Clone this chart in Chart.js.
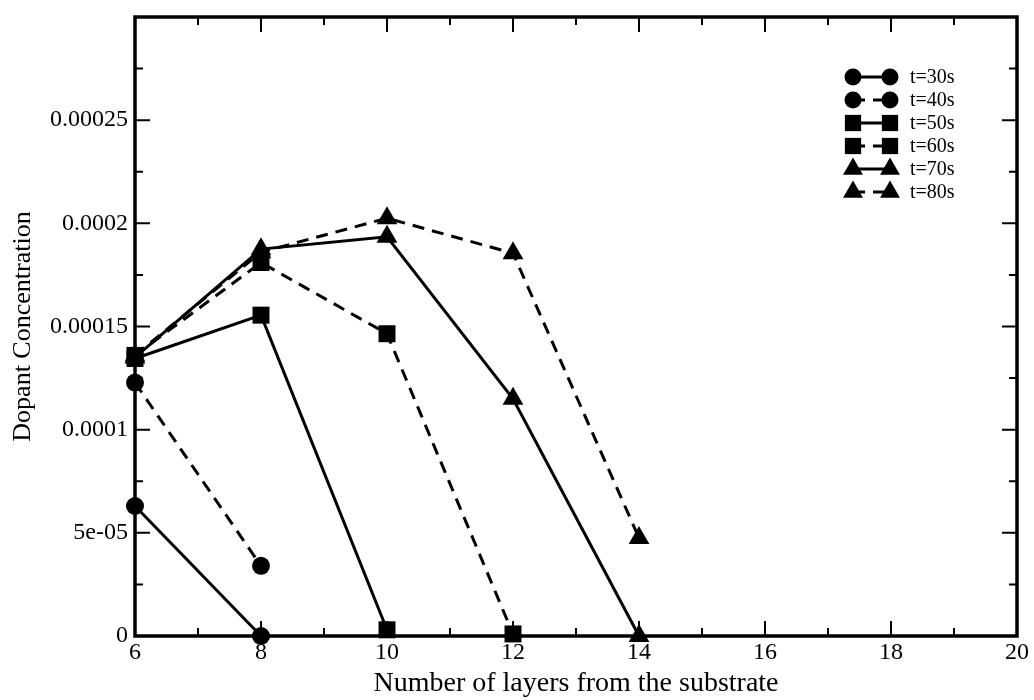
<!DOCTYPE html>
<html>
<head>
<meta charset="utf-8">
<title>Dopant Concentration vs Number of layers</title>
<script src="https://cdn.jsdelivr.net/npm/chart.js@4/dist/chart.umd.min.js"></script>
<style>
  html, body { margin: 0; padding: 0; background: #ffffff; }
  #wrap { width: 1034px; height: 700px; }
</style>
</head>
<body>
<div id="wrap"><canvas id="c" width="1034" height="700"></canvas></div>
<script>
// Layer index (x) for each time step
const layers30 = [6, 8];
const layers40 = [6, 8];
const layers50 = [6, 8, 10];
const layers60 = [6, 8, 10, 12];
const layers70 = [6, 8, 10, 12, 14];
const layers80 = [6, 8, 10, 12, 14];

// Dopant concentration per time step
const conc30 = [0.0000630, 0.0000000];
const conc40 = [0.0001228, 0.0000340];
const conc50 = [0.0001345, 0.0001555, 0.0000030];
const conc60 = [0.0001360, 0.0001810, 0.0001465, 0.0000010];
const conc70 = [0.0001350, 0.0001875, 0.0001935, 0.0001150, 0.0000000];
const conc80 = [0.0001360, 0.0001860, 0.0002025, 0.0001855, 0.0000475];

const seriesLabels = ['t=30s', 't=40s', 't=50s', 't=60s', 't=70s', 't=80s'];

// Axis ticks
const xTickValues = [6, 8, 10, 12, 14, 16, 18, 20];
const xTickLabels = ['6', '8', '10', '12', '14', '16', '18', '20'];
const yTickValues = [0, 0.00005, 0.0001, 0.00015, 0.0002, 0.00025, 0.0003];
const yTickLabels = ['0', '5e-05', '0.0001', '0.00015', '0.0002', '0.00025', ''];

const FONT = "'Liberation Serif', 'Times New Roman', serif";
const INK = '#000000';
const DASH = [12, 8];

function pts(xs, ys) { return xs.map((x, i) => ({ x: x, y: ys[i] })); }

function makeSet(label, xs, ys, style, radius, dashed) {
  return {
    label: label,
    data: pts(xs, ys),
    borderColor: INK,
    backgroundColor: INK,
    borderWidth: 3,
    borderDash: dashed ? DASH : [],
    pointStyle: style,
    pointRadius: radius,
    pointHoverRadius: radius,
    pointBorderWidth: 0,
    pointBackgroundColor: INK,
    tension: 0,
    clip: false
  };
}

const datasets = [
  makeSet(seriesLabels[0], layers30, conc30, 'circle', 9, false),
  makeSet(seriesLabels[1], layers40, conc40, 'circle', 9, true),
  makeSet(seriesLabels[2], layers50, conc50, 'rect', 12, false),
  makeSet(seriesLabels[3], layers60, conc60, 'rect', 12, true),
  makeSet(seriesLabels[4], layers70, conc70, 'triangle', 12, false),
  makeSet(seriesLabels[5], layers80, conc80, 'triangle', 12, true)
];

// Draws a filled marker of the given style
function marker(ctx, style, x, y, r) {
  ctx.beginPath();
  if (style === 'circle') {
    ctx.arc(x, y, r, 0, Math.PI * 2);
  } else if (style === 'rect') {
    const s = r * Math.SQRT1_2;
    ctx.rect(x - s, y - s, 2 * s, 2 * s);
  } else {
    for (let k = 0; k < 3; k++) {
      const a = k * 2 * Math.PI / 3;
      const px = x + Math.sin(a) * r, py = y - Math.cos(a) * r;
      if (k === 0) ctx.moveTo(px, py); else ctx.lineTo(px, py);
    }
    ctx.closePath();
  }
  ctx.fill();
}

// Frame, inward ticks on all four sides, and the series key
const framePlugin = {
  id: 'frame',
  afterDraw(chart) {
    const ctx = chart.ctx;
    const a = chart.chartArea;
    const xs = chart.scales.x, ys = chart.scales.y;
    ctx.save();
    ctx.strokeStyle = INK;
    ctx.fillStyle = INK;
    ctx.setLineDash([]);

    // ticks
    ctx.lineWidth = 2;
    const major = 15, minor = 8;
    const xt = xs.ticks.map(t => t.value);
    const yt = ys.ticks.map(t => t.value);
    const xMinor = [], yMinor = [];
    for (let i = 0; i < xt.length - 1; i++) xMinor.push((xt[i] + xt[i + 1]) / 2);
    for (let i = 0; i < yt.length - 1; i++) yMinor.push((yt[i] + yt[i + 1]) / 2);
    ctx.beginPath();
    xt.forEach(v => {
      const px = xs.getPixelForValue(v);
      ctx.moveTo(px, a.bottom); ctx.lineTo(px, a.bottom - major);
      ctx.moveTo(px, a.top); ctx.lineTo(px, a.top + major);
    });
    xMinor.forEach(v => {
      const px = xs.getPixelForValue(v);
      ctx.moveTo(px, a.bottom); ctx.lineTo(px, a.bottom - minor);
      ctx.moveTo(px, a.top); ctx.lineTo(px, a.top + minor);
    });
    yt.forEach(v => {
      const py = ys.getPixelForValue(v);
      ctx.moveTo(a.left, py); ctx.lineTo(a.left + major, py);
      ctx.moveTo(a.right, py); ctx.lineTo(a.right - major, py);
    });
    yMinor.forEach(v => {
      const py = ys.getPixelForValue(v);
      ctx.moveTo(a.left, py); ctx.lineTo(a.left + minor, py);
      ctx.moveTo(a.right, py); ctx.lineTo(a.right - minor, py);
    });
    ctx.stroke();

    // frame
    ctx.lineWidth = 3.5;
    ctx.strokeRect(a.left, a.top, a.right - a.left, a.bottom - a.top);

    // key
    const kx1 = a.right - 164, kx2 = a.right - 127, tx = a.right - 107;
    const ky0 = 77, kdy = 23;
    ctx.font = '20px ' + FONT;
    ctx.textAlign = 'left';
    ctx.textBaseline = 'middle';
    chart.data.datasets.forEach((ds, i) => {
      const y = ky0 + i * kdy;
      ctx.lineWidth = 3;
      ctx.setLineDash(ds.borderDash || []);
      ctx.beginPath();
      ctx.moveTo(kx1, y); ctx.lineTo(kx2, y);
      ctx.stroke();
      ctx.setLineDash([]);
      const r = ds.pointStyle === 'circle' ? 8.5 : 11.5;
      marker(ctx, ds.pointStyle, kx1, y, r);
      marker(ctx, ds.pointStyle, kx2, y, r);
      ctx.fillText(ds.label, tx, y + 1);
    });
    ctx.restore();
  }
};

new Chart(document.getElementById('c'), {
  type: 'line',
  data: { datasets: datasets },
  plugins: [framePlugin],
  options: {
    responsive: false,
    devicePixelRatio: 1,
    animation: false,
    layout: { padding: { top: 17, right: 17, left: 0, bottom: 0 } },
    plugins: { legend: { display: false }, tooltip: { enabled: false } },
    scales: {
      x: {
        type: 'linear',
        min: 6, max: 20,
        afterBuildTicks(scale) { scale.ticks = xTickValues.map(v => ({ value: v })); },
        afterFit(scale) { scale.height = 64; scale.paddingLeft = 0; scale.paddingRight = 0; },
        grid: { display: false, drawTicks: false },
        border: { display: false },
        ticks: {
          color: INK,
          font: { family: FONT, size: 24 },
          padding: 2,
          maxRotation: 0,
          autoSkip: false,
          callback: (v, i) => xTickLabels[i]
        },
        title: {
          display: true,
          text: 'Number of layers from the substrate',
          color: INK,
          font: { family: FONT, size: 28 },
          padding: { top: 0, bottom: 0 }
        }
      },
      y: {
        type: 'linear',
        min: 0, max: 0.0003,
        afterBuildTicks(scale) { scale.ticks = yTickValues.map(v => ({ value: v })); },
        afterFit(scale) { scale.width = 135; scale.paddingTop = 0; scale.paddingBottom = 0; },
        grid: { display: false, drawTicks: false },
        border: { display: false },
        ticks: {
          color: INK,
          font: { family: FONT, size: 24 },
          padding: 7,
          autoSkip: false,
          callback: (v, i) => yTickLabels[i]
        },
        title: {
          display: true,
          text: 'Dopant Concentration',
          color: INK,
          font: { family: FONT, size: 26 },
          padding: { top: 8, bottom: 0 }
        }
      }
    }
  }
});
</script>
</body>
</html>
